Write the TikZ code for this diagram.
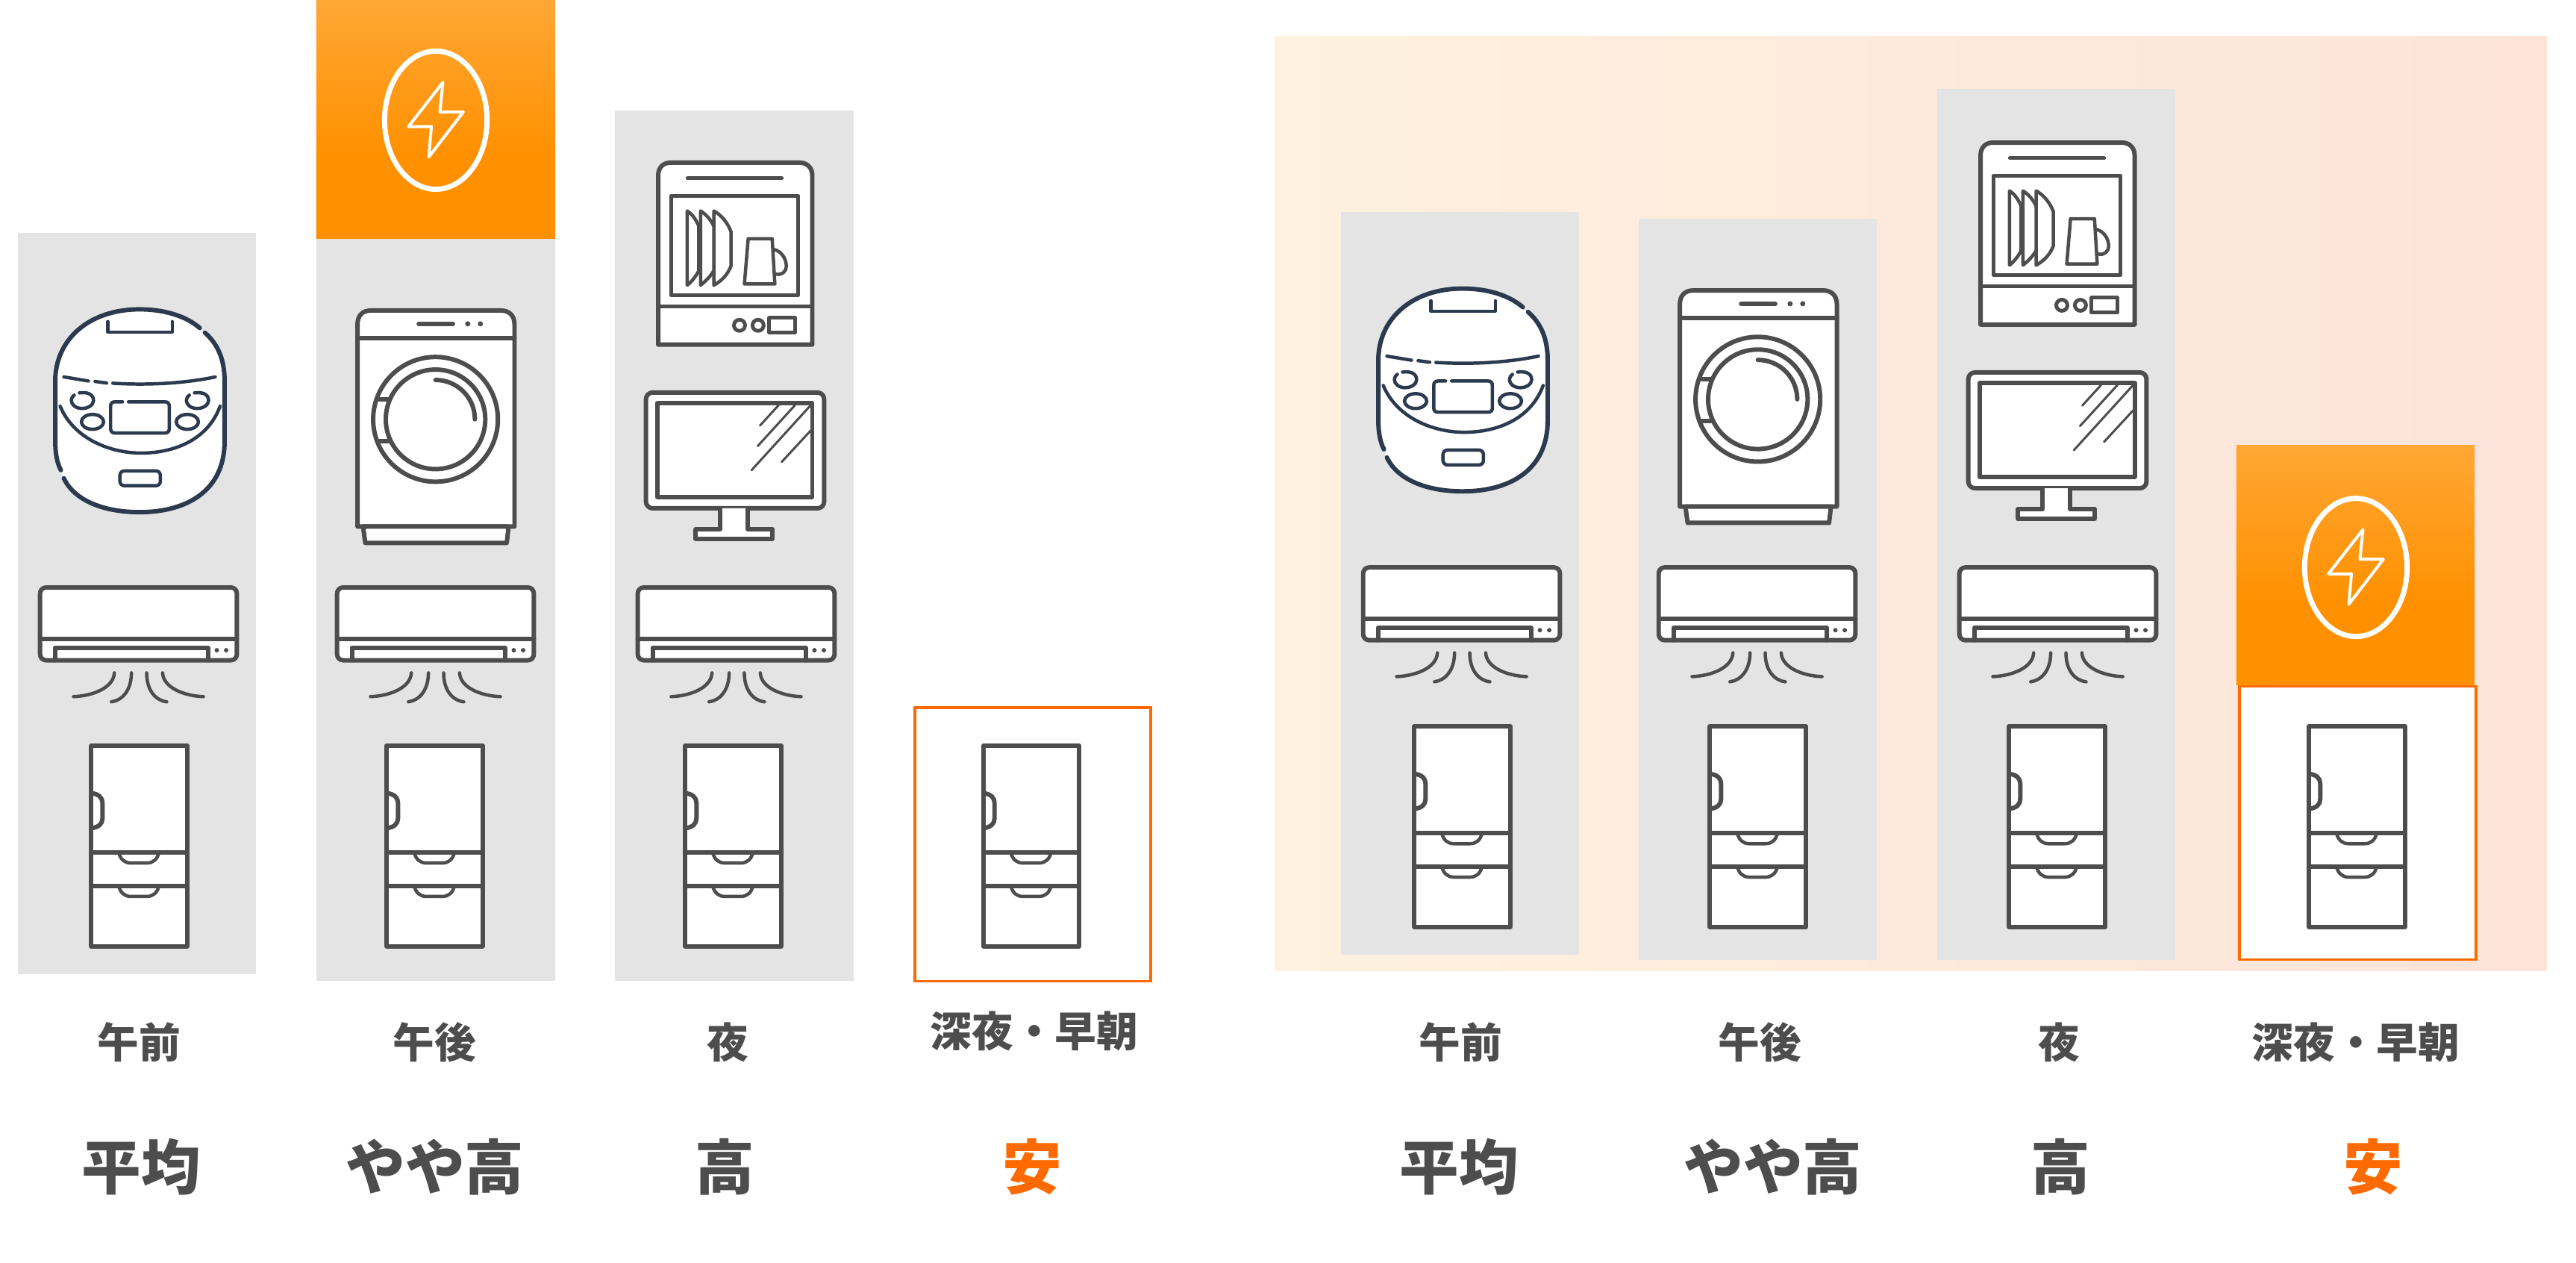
\documentclass[tikz,border=0pt]{standalone}
\usepackage{fontspec}
\newfontfamily\cjk{Noto Sans CJK JP}
\definecolor{ink}{HTML}{4D4D4D}
\definecolor{navy}{HTML}{2B3A4E}
\definecolor{barbg}{HTML}{E4E4E4}
\definecolor{oraA}{HTML}{FF9000}
\definecolor{oraB}{HTML}{FFA735}
\definecolor{frameor}{HTML}{FF6A00}
\definecolor{bgL}{HTML}{FEF1DF}
\definecolor{bgR}{HTML}{FDE3DA}
\pgfdeclareverticalshading{orgrad}{100bp}{color(0bp)=(oraA); color(42bp)=(oraA); color(75bp)=(oraB); color(100bp)=(oraB)}
\tikzset{
  x=1pt,y=-1pt,
  icon/.style={draw=ink,fill=white,line width=6pt,line join=round,line cap=round},
  iconline/.style={draw=ink,line width=6pt,line join=round,line cap=round},
  thinline/.style={draw=ink,line width=3pt,line cap=round},
  ricefill/.style={fill=white},
  riceline/.style={draw=navy,line width=4.5pt,line cap=round,line join=round},
  barbox/.style={fill=barbg},
  orbox/.style={shading=orgrad},
  sm/.style={text=ink,inner sep=0pt,font=\cjk\bfseries\fontsize{56}{64}\selectfont},
  lg/.style={text=ink,inner sep=0pt,font=\cjk\bfseries\fontsize{80}{92}\selectfont},
  lgo/.style={lg,text=frameor},
  fridge/.pic={
    \path[icon] (123,1004) rectangle (252,1274);
    \path[iconline] (123,1148) -- (252,1148) (123,1193) -- (252,1193);
    \path[iconline] (123,1068) .. controls (133,1069) and (138,1074) .. (138,1081) -- (138,1102) .. controls (138,1109) and (133,1114) .. (123,1115);
    \foreach \yy in {1148,1193}{
      \path[iconline,line width=4.5pt] (160,\yy) .. controls (162,\yy+9) and (168,\yy+14) .. (176,\yy+14) -- (198,\yy+14) .. controls (206,\yy+14) and (212,\yy+9) .. (214,\yy);
    }
  },
  aircon/.pic={
    \path[icon,rounded corners=8pt] (54,791) rectangle (319,889);
    \path[iconline] (54,860.5) -- (319,860.5);
    \path[iconline] (74,889) -- (74,872) -- (280,872) -- (280,889);
    \fill[ink] (292,875.5) circle (3) (304.6,875.5) circle (3);
    \path[iconline,line width=4.5pt]
      (154,906) .. controls (153,926) and (125,937) .. (99,938)
      (177,906) .. controls (177,929) and (165,943) .. (150,945)
      (197.5,906) .. controls (197.5,929) and (209,943) .. (224.6,945)
      (219,906) .. controls (220,926) and (248,937) .. (274,938);
  },
  cooker/.pic={
    \begin{scope}[yshift=-2pt]
    \path[ricefill] (188,414.5) .. controls (250,414.5) and (302.5,455) .. (302.5,511) -- (302.5,592) .. controls (302.5,660) and (250,687.6) .. (188,687.6) .. controls (125,687.6) and (74.4,660) .. (74.4,592) -- (74.4,511) .. controls (74.4,455) and (125,414.5) .. cycle;
    \path[riceline,line width=6pt] (276,446) .. controls (292,460) and (302.5,480) .. (302.5,511) -- (302.5,592) .. controls (302.5,660) and (250,687.6) .. (188,687.6) .. controls (140,687.6) and (100,672) .. (86,642);
    \path[riceline,line width=6pt] (82,631) .. controls (76,620) and (74.4,605) .. (74.4,592) -- (74.4,511) .. controls (74.4,455) and (120,414.5) .. (188,414.5) .. controls (220,414.5) and (250,423) .. (269,439.6);
    \path[riceline] (145,431) -- (145,445) -- (232,445) -- (232,431);
    \path[riceline] (86,505.5) -- (119,511) (128,511.6) -- (143.6,513.7) (152,514) .. controls (200,517) and (250,514) .. (290,505.5);
    \path[riceline] (81,545) .. controls (100,590) and (150,608) .. (190,608) .. controls (235,608) and (280,590) .. (296.4,545);
    \path[riceline] (165,539) -- (155,539) .. controls (151,539) and (149,541) .. (149,545) -- (149,575) .. controls (149,579) and (151,581) .. (155,581) -- (222,581) .. controls (226,581) and (228,579) .. (228,575) -- (228,545) .. controls (228,541) and (226,539) .. (222,539) -- (173,539);
    \path[riceline] (124.6,566) ellipse [x radius=15,y radius=10] (252.3,566) ellipse [x radius=15,y radius=10];
    \path[riceline] (107,527) .. controls (122,525) and (126,532) .. (126,537) .. controls (126,544) and (118,548) .. (111,548) .. controls (102,548) and (96,543) .. (96,537) .. controls (96,534) and (98,531) .. (100,530);
    \path[riceline] (262,527) .. controls (277,525) and (281,532) .. (281,537) .. controls (281,544) and (273,548) .. (266,548) .. controls (257,548) and (251,543) .. (251,537) .. controls (251,534) and (253,531) .. (255,530);
    \path[riceline,rounded corners=6pt] (161.5,632) rectangle (216,652);
    \end{scope}
  },
  washer/.pic={
    \path[icon] (481.5,709) -- (481.5,437) .. controls (481.5,425) and (488,418) .. (500,418) -- (674,418) .. controls (686,418) and (693,425) .. (693,437) -- (693,709) -- cycle;
    \path[iconline] (481.5,455) -- (693,455);
    \path[icon] (489,709) -- (492,731) -- (682.5,731) -- (685,709) -- cycle;
    \path[iconline] (564,436) -- (610,436);
    \fill[ink] (630,436) circle (3.5) (647,436) circle (3.5);
    \path[iconline] (586.6,564.6) circle (84);
    \path[iconline] (586.6,564.6) circle (67);
    \path[iconline] (511,538) -- (524,538) (511,594) -- (524,594);
    \path[iconline] (586.6,511.6) arc[start angle=-90,end angle=0,radius=53];
  },
  dishw/.pic={
    \path[icon] (886.5,464) -- (886.5,236) .. controls (886.5,226) and (893,219) .. (903,219) -- (1077,219) .. controls (1087,219) and (1094,226) .. (1094,236) -- (1094,464) -- cycle;
    \path[iconline,line width=5pt] (926,240) -- (1053,240);
    \path[iconline,line width=5pt] (904,263.5) rectangle (1075,397.5);
    \path[iconline,line width=5pt] (886.5,412.6) -- (1094,412.6);
    \path[iconline,line width=5pt] (996,438) circle (7.5) (1021,438) circle (7.5);
    \path[iconline,line width=5pt] (1036,428) rectangle (1071,447.6);
    \path[iconline,line width=4.5pt] (941,365) .. controls (937,372) and (932,379) .. (925.6,384) -- (925.6,284) .. controls (932,288) and (937,295) .. (941,304) -- (941,365);
    \path[iconline,line width=4.5pt] (961,365) .. controls (957,372) and (950,379) .. (943.6,384) -- (943.6,284) .. controls (950,288) and (957,295) .. (961,304);
    \path[iconline,line width=4.5pt] (961.5,384) -- (961.5,284) .. controls (972,290) and (980,300) .. (984.6,312) -- (984.6,358) .. controls (980,370) and (972,378) .. (961.5,384);
    \path[iconline,line width=4.5pt] (1007.7,321.5) -- (1040,321.5) -- (1043.6,382.4) -- (1002.6,382.4) -- cycle;
    \path[iconline,line width=4.5pt] (1042.6,336) .. controls (1052,338) and (1059,348) .. (1059,358) .. controls (1059,366) and (1053,371) .. (1045,369);
  },
  telly/.pic={
    \path[icon,rounded corners=9pt] (870,528.5) rectangle (1110,684.4);
    \path[iconline] (885,543) rectangle (1094,669);
    \path[icon] (970,684.4) -- (970,712.6) -- (937,712.6) -- (937,725.8) -- (1040.5,725.8) -- (1040.5,712.6) -- (1007,712.6) -- (1007,684.4);
    \path[thinline] (1048.7,545.5) -- (1023.6,573) (1070.8,545.5) -- (1020.5,600.6) (1092,545.5) -- (1012.3,633) (1092,579.6) -- (1052.8,622);
  },
  boltmark/.pic={
    \path[draw=white,line width=7pt] (0,0) ellipse [x radius=69,y radius=93];
    \path[draw=white,line width=4pt,line join=round] (9.5,-51) -- (5.5,-11) -- (37,-11) -- (-9.5,49.6) -- (-6,8.7) -- (-37,8.7) -- cycle;
  }
}
\begin{document}
\begin{tikzpicture}
\useasboundingbox (0,0) rectangle (3469.5,1700.5);
% left group bars
\fill[barbox] (24,314) rectangle (345,1312);
\fill[barbox] (426,321) rectangle (748,1321);
\path[orbox] (426,0) rectangle (748,321);
\fill[barbox] (828,148.6) rectangle (1150,1321);
\draw[frameor,line width=3.5pt] (1232,953) rectangle (1550,1321);
% right group
\path[left color=bgL,right color=bgR] (1717,49) rectangle (3430,1307);
\fill[barbox] (1806,285.5) rectangle (2127,1285);
\fill[barbox] (2207,294) rectangle (2528,1292);
\fill[barbox] (2609,120) rectangle (2930,1292);
\path[orbox] (3012,600) rectangle (3333,922);
\draw[frameor,line width=3.5pt,fill=white] (3016,924) rectangle (3335,1292);
% left icons
\pic at (0,0) {cooker};
\pic at (0,0) {aircon};
\pic at (0,0) {fridge};
\pic at (0,0) {washer};
\pic at (400,0) {aircon};
\pic at (398,0) {fridge};
\pic at (587,161.8) {boltmark};
\pic at (0,0) {dishw};
\pic at (0,0) {telly};
\pic at (805,0) {aircon};
\pic at (800,0) {fridge};
\pic at (1201.5,0) {fridge};
% right icons
\pic at (1782,-28) {cooker};
\pic at (1782,-27) {aircon};
\pic at (1782,-26) {fridge};
\pic at (1781,-27) {washer};
\pic at (2180,-27) {aircon};
\pic at (2180,-26) {fridge};
\pic at (1781,-27) {dishw};
\pic at (1781,-27) {telly};
\pic at (2585,-27) {aircon};
\pic at (2583,-26) {fridge};
\pic at (3173,764) {boltmark};
\pic at (2987,-26) {fridge};
% labels
\node[sm] (a1) at (187,1403) {午前};
\node[sm] (a2) at (585,1403) {午後};
\node[sm] (a3) at (980,1403) {夜};
\node[sm] (a4) at (1393,1388) {深夜・早朝};
\node[lg] (b1) at (190,1571) {平均};
\node[lg] (b2) at (586,1571) {やや高};
\node[lg] (b3) at (976,1571) {高};
\node[lgo] (b4) at (1390,1571) {安};
\node[sm] (c1) at (1967,1403) {午前};
\node[sm] (c2) at (2370,1403) {午後};
\node[sm] (c3) at (2773,1403) {夜};
\node[sm] (c4) at (3173,1403) {深夜・早朝};
\node[lg] (d1) at (1965,1571) {平均};
\node[lg] (d2) at (2388,1571) {やや高};
\node[lg] (d3) at (2775,1571) {高};
\node[lgo] (d4) at (3196,1571) {安};
\end{tikzpicture}
\end{document}
